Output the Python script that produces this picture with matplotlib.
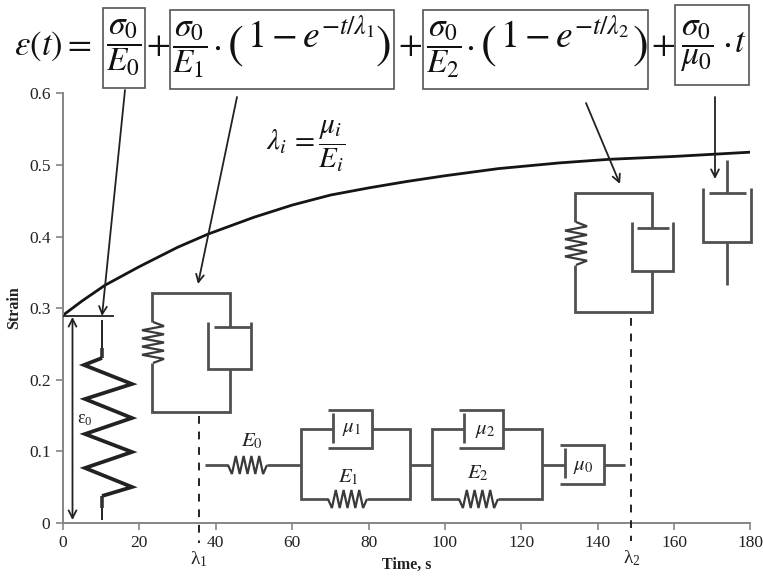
#!/usr/bin/env python3
import matplotlib
matplotlib.use("Agg")
import matplotlib.pyplot as plt
from matplotlib.patches import Rectangle

time_s = [0, 5, 11, 20, 30, 38, 50, 60, 70, 80, 90, 100, 114, 130, 143, 160, 170, 180]
strain = [0.290, 0.310, 0.332, 0.358, 0.385, 0.4035, 0.427, 0.444, 0.458, 0.468, 0.477, 0.485, 0.495, 0.503,
          0.508, 0.512, 0.515, 0.518]
x_ticks = [0, 20, 40, 60, 80, 100, 120, 140, 160, 180]
y_ticks = [0, 0.1, 0.2, 0.3, 0.4, 0.5, 0.6]
y_labels = ["0", "0.1", "0.2", "0.3", "0.4", "0.5", "0.6"]

W, H = 763, 577
GRAY = "#505050"
AXIS = "#858585"
INK = "#151515"

plt.rcParams["font.family"] = ["Liberation Serif", "DejaVu Serif"]
plt.rcParams["mathtext.fontset"] = "stix"

fig = plt.figure(figsize=(W / 100, H / 100), dpi=100)
ax = fig.add_axes([63 / W, 1 - 522.7 / H, (750.5 - 63) / W, (522.7 - 93.5) / H])
ax.plot(time_s, strain, color=INK, lw=2.0, solid_capstyle="round")
ax.set_xlim(0, 180)
ax.set_ylim(0, 0.6)
ax.set_xticks(x_ticks)
ax.set_yticks(y_ticks)
ax.set_yticklabels(y_labels)
ax.tick_params(colors=AXIS, labelcolor="#222222", labelsize=12.5, length=5, width=1.2, pad=4)
for side in ["top", "right"]:
    ax.spines[side].set_visible(False)
for side in ["left", "bottom"]:
    ax.spines[side].set_color(AXIS)
    ax.spines[side].set_linewidth(1.4)
ax.set_xlabel("Time, s", fontsize=11.5, fontweight="bold", labelpad=4, color="#222222")
ax.set_ylabel("Strain", fontsize=11.5, fontweight="bold", labelpad=5, color="#222222")

# schematic overlay, works in image pixels
ov = fig.add_axes([0, 0, 1, 1])
ov.set_xlim(0, W)
ov.set_ylim(H, 0)
ov.axis("off")
ov.patch.set_alpha(0)


def path(xs, ys, lw=2.0, color=GRAY, **kw):
    ov.plot(xs, ys, color=color, lw=lw, solid_capstyle="butt", solid_joinstyle="miter", **kw)


def arrow(x0, y0, x1, y1, style="->"):
    ov.annotate("", xy=(x1, y1), xytext=(x0, y0),
                arrowprops=dict(arrowstyle=f"{style},head_width=0.28,head_length=0.55",
                                color="#222222", lw=1.3, shrinkA=0, shrinkB=0))


def spring_h(x0, x1, y, amp=9, n=9, lw=1.6):
    xs = [x0 + (x1 - x0) * i / (n + 1) for i in range(n + 2)]
    ys = [y] + [y + (amp if i % 2 == 0 else -amp) for i in range(n)] + [y]
    path(xs, ys, lw=lw, color="#3a3a3a")


def spring_v(x, y0, y1, amp=11, n=9, lw=1.6):
    ys = [y0 + (y1 - y0) * i / (n + 1) for i in range(n + 2)]
    xs = [x] + [x + (amp if i % 2 == 0 else -amp) for i in range(n)] + [x]
    path(xs, ys, lw=lw, color="#3a3a3a")


def kelvin(xl, xr, top, bottom, sp0, sp1, wall_l, wall_r, wall_top, wall_bot, piston_y, piston_l, piston_r):
    path([xl, xl, xr, xr], [sp0, top, top, piston_y])
    path([xl, xl, xr, xr], [sp1, bottom, bottom, wall_bot])
    spring_v(xl + 1, sp0, sp1)
    path([wall_l, wall_l, wall_r, wall_r], [wall_top, wall_bot, wall_bot, wall_top])
    path([piston_l, piston_r], [piston_y, piston_y])


def dash_h(x_rod, x_box0, x_box1, top, bottom, rod0, rod1):
    path([x_box0, x_box1, x_box1, x_box0], [top, top, bottom, bottom])
    path([x_rod, x_rod], [rod0, rod1])


def eq(x, y, s, size=25):
    ov.text(x, y, s, fontsize=size, ha="center", va="center", color="#111111")


# equation
FRAC = 24
eq(53, 46, r"$\varepsilon(t) =$")
eq(124, 48, r"$\dfrac{\sigma_0}{E_0}$", FRAC)
eq(158, 46, r"$+$")
eq(190, 50, r"$\dfrac{\sigma_0}{E_1}$", FRAC)
eq(217, 47, r"$\cdot$")
eq(235, 46, r"$($", 34)
eq(311, 38, r"$1-e^{-t/\lambda_1}$", 27)
eq(383, 46, r"$)$", 34)
eq(410, 46, r"$+$")
eq(444, 50, r"$\dfrac{\sigma_0}{E_2}$", FRAC)
eq(470, 47, r"$\cdot$")
eq(488, 46, r"$($", 34)
eq(565, 38, r"$1-e^{-t/\lambda_2}$", 27)
eq(640, 46, r"$)$", 34)
eq(663, 46, r"$+$")
eq(697, 46, r"$\dfrac{\sigma_0}{\mu_0}$", FRAC)
eq(727, 44, r"$\cdot$")
eq(740, 44, r"$t$")
for x0, x1, y0, y1 in [(102.5, 145, 8, 88), (170, 394, 10, 89), (423, 648, 10, 89), (675, 748.5, 5, 85)]:
    ov.add_patch(Rectangle((x0, y0), x1 - x0, y1 - y0, fill=False, ec="#555555", lw=1.2))
eq(306, 146, r"$\lambda_i\, =\dfrac{\mu_i}{E_i}$", 21)

# arrows from the equation
arrow(125, 90, 102, 316)
arrow(237, 97, 198, 284)
arrow(586, 103, 620, 184)
arrow(715, 97, 715, 179)

# instantaneous spring
path([63, 114], [316, 316], lw=1.3, color="#222222")
arrow(72.5, 317, 72.5, 520, "<->")
ov.text(85, 420, r"$\mathregular{\varepsilon_0}$", fontsize=13, ha="center", va="center", color="#222222")
path([102, 102], [320, 348], lw=1.4, color="#222222")
path([102, 102], [348, 358], lw=2.6, color="#333333")
path([102, 84, 132, 85, 132, 85, 132, 85, 132, 102],
     [358, 365, 384, 399, 418, 434, 452, 468, 487, 496], lw=2.7, color="#222222")
path([102, 102], [496, 508], lw=2.6, color="#333333")
path([102, 102], [508, 520], lw=1.4, color="#222222")

# Kelvin elements
kelvin(152, 230, 293, 412, 322, 363, 208, 251, 322, 369, 327, 214, 251)
kelvin(575, 652, 193, 312, 222, 265, 632, 673, 222, 271, 228, 637, 669)

# free dashpot
path([703, 703, 751, 751], [188, 242, 242, 188])
path([709, 746], [193, 193])
path([727, 727], [160, 193])
path([727, 727], [242, 285])

# series diagram
path([205, 228], [465, 465])
spring_h(228, 267, 465)
path([267, 301], [465, 465])
for xl, xr, pist, b0, b1, s0, s1 in [(301, 410, 333, 328, 372, 328, 367), (432, 542, 464, 459, 503, 459, 498)]:
    path([pist, xl, xl, s0], [429, 429, 499, 499])
    path([b1, xr, xr, s1], [429, 429, 499, 499])
    dash_h(pist, b0, b1, 410, 448, 413, 443)
    spring_h(s0, s1, 499)
path([410, 432], [465, 465])
path([542, 565], [465, 465])
dash_h(565, 560, 604, 445, 484, 448, 478)
path([604, 625], [465, 465])

ov.text(252, 441, r"$E_0$", fontsize=15, ha="center", va="center", color="#222222")
ov.text(352, 429, r"$\mu_1$", fontsize=15, ha="center", va="center", color="#222222")
ov.text(348, 477, r"$E_1$", fontsize=15, ha="center", va="center", color="#222222")
ov.text(485, 430, r"$\mu_2$", fontsize=15, ha="center", va="center", color="#222222")
ov.text(478, 473, r"$E_2$", fontsize=15, ha="center", va="center", color="#222222")
ov.text(583, 466, r"$\mu_0$", fontsize=15, ha="center", va="center", color="#222222")

# relaxation times
ov.plot([199, 199], [416, 543], color="#222222", lw=1.4, ls=(0, (4, 4)))
ov.plot([631, 631], [318, 541], color="#222222", lw=1.4, ls=(0, (4, 4)))
ov.text(199, 559, r"$\mathregular{\lambda_1}$", fontsize=14, ha="center", va="center", color="#222222")
ov.text(632, 558, r"$\mathregular{\lambda_2}$", fontsize=14, ha="center", va="center", color="#222222")

fig.savefig("out.png", dpi=100)
